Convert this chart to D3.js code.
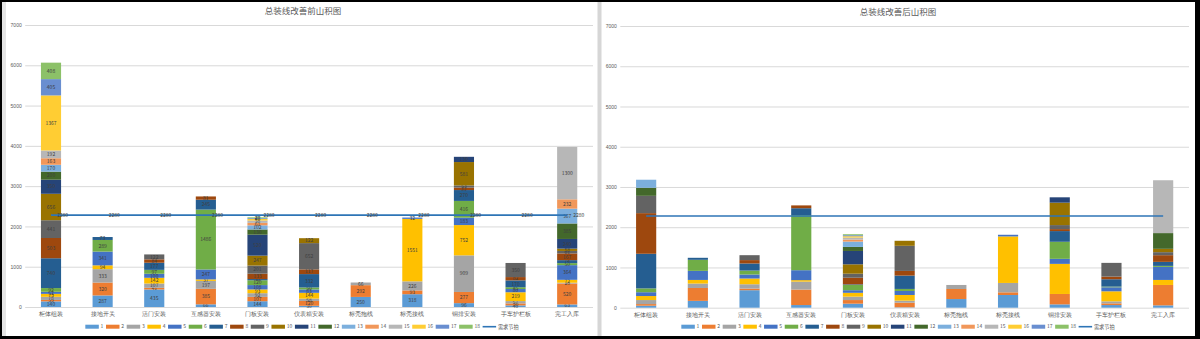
<!DOCTYPE html>
<html>
<head>
<meta charset="utf-8">
<script src="https://cdn.jsdelivr.net/npm/d3@7"></script>
<style>
  body { margin: 0; background: #000; }
  svg { display: block; font-family: "Noto Sans CJK SC", "Noto Sans", sans-serif; }
</style>
</head>
<body>
<script>
var categories = ["柜体组装", "接地开关", "活门安装", "互感器安装", "门板安装", "仪表箱安装",
    "标壳拖线", "标壳接线", "铜排安装", "手车护栏板", "完工入库"];
var seriesNames = ["1", "2", "3", "4", "5", "6", "7", "8", "9", "10", "11", "12", "13", "14", "15", "16", "17", "18"];
var lineName = "需求节拍";
var taktTime = [2280, 2280, 2280, 2280, 2280, 2280, 2280, 2280, 2280, 2280, 2280];
var yTicks = [0, 1000, 2000, 3000, 4000, 5000, 6000, 7000];

// rows = series 1..18, columns = categories
var beforeValues = [
    [140, 287, 435, 66, 144, 30, 250, 318, 96, 40, 63],
    [35, 320, 41, 385, 107, 120, 292, 93, 277, 50, 520],
    [78, 333, 107, 197, 92, 58, 66, 226, 909, 57, 20],
    [73, 94, 142, 37, 93, 144, 0, 1551, 752, 219, 72],
    [52, 341, 100, 247, 108, 83, 0, 32, 183, 80, 364],
    [92, 289, 97, 1486, 120, 50, 0, 0, 416, 45, 50],
    [740, 73, 177, 245, 30, 332, 0, 0, 270, 170, 74],
    [503, 0, 84, 81, 133, 117, 0, 0, 61, 82, 167],
    [441, 0, 122, 0, 201, 652, 0, 0, 53, 350, 61],
    [656, 0, 0, 0, 247, 122, 0, 0, 581, 0, 58],
    [350, 0, 0, 0, 520, 0, 0, 0, 130, 0, 240],
    [200, 0, 0, 0, 130, 0, 0, 0, 0, 0, 385],
    [170, 0, 0, 0, 102, 0, 0, 0, 0, 0, 367],
    [163, 0, 0, 0, 61, 0, 0, 0, 0, 0, 232],
    [192, 0, 0, 0, 58, 0, 0, 0, 0, 0, 1300],
    [1367, 0, 0, 0, 40, 0, 0, 0, 0, 0, 0],
    [405, 0, 0, 0, 20, 0, 0, 0, 0, 0, 0],
    [408, 0, 0, 0, 20, 0, 0, 0, 0, 0, 0]
];
var afterValues = [
    [50, 170, 435, 66, 100, 10, 215, 316, 83, 66, 58],
    [40, 320, 41, 385, 90, 115, 250, 66, 258, 42, 507],
    [100, 110, 107, 197, 85, 50, 100, 233, 0, 50, 0],
    [100, 90, 142, 37, 95, 141, 0, 1156, 748, 249, 125],
    [95, 225, 100, 247, 65, 100, 0, 41, 125, 100, 324],
    [95, 275, 97, 1370, 130, 50, 0, 0, 424, 17, 25],
    [860, 50, 177, 170, 15, 332, 0, 0, 266, 183, 100],
    [1010, 0, 84, 70, 165, 116, 0, 0, 49, 66, 166],
    [430, 0, 122, 0, 100, 624, 0, 0, 100, 341, 75],
    [0, 0, 0, 0, 233, 125, 0, 0, 557, 0, 83],
    [0, 0, 0, 0, 332, 0, 0, 0, 133, 0, 0],
    [200, 0, 0, 0, 100, 0, 0, 0, 0, 0, 391],
    [200, 0, 0, 0, 133, 0, 0, 0, 0, 0, 0],
    [0, 0, 0, 0, 50, 0, 0, 0, 0, 0, 0],
    [0, 0, 0, 0, 50, 0, 0, 0, 0, 0, 1313],
    [0, 0, 0, 0, 33, 0, 0, 0, 0, 0, 0],
    [0, 0, 0, 0, 25, 0, 0, 0, 0, 0, 0],
    [0, 0, 0, 0, 25, 0, 0, 0, 0, 0, 0]
];

var colors = ["#5B9BD5", "#ED7D31", "#A5A5A5", "#FFC000", "#4472C4", "#70AD47",
    "#255E91", "#9E480E", "#636363", "#997300", "#264478", "#43682B",
    "#7CAFDD", "#F1975A", "#B7B7B7", "#FFCD33", "#698ED0", "#8CC168"];
var lineColor = "#2E75B6";

var W = 1200, H = 339;
var svg = d3.select("body").append("svg").attr("width", W).attr("height", H);

// frame
svg.append("rect").attr("width", W).attr("height", H).attr("fill", "#000");
svg.append("rect").attr("x", 2).attr("y", 2).attr("width", 1193).attr("height", 334).attr("fill", "#fff");
svg.append("rect").attr("x", 2).attr("y", 2).attr("width", 4).attr("height", 334).attr("fill", "#e4e4e4");
svg.append("rect").attr("x", 597.5).attr("y", 2).attr("width", 4).attr("height", 334).attr("fill", "#d6d6d6");

function drawPanel(p) {
    var g = svg.append("g");
    var x = d3.scaleBand().domain(categories).range([p.left, p.right])
        .paddingInner(0.61).paddingOuter(0.305);
    var y = d3.scaleLinear().domain([0, 7000]).range([p.bottom, p.top]);

    // grid + y labels
    var ya = g.append("g").attr("transform", "translate(" + p.left + ",0)")
        .call(d3.axisLeft(y).tickValues(yTicks).tickFormat(d3.format("d"))
            .tickSize(-(p.right - p.left)).tickPadding(3.5));
    ya.select(".domain").remove();
    ya.selectAll("line").attr("stroke", "#d9d9d9").attr("stroke-width", 1);
    ya.selectAll("text").attr("fill", "#595959").style("font-size", "5px");

    // category labels
    var xa = g.append("g").attr("transform", "translate(0," + p.bottom + ")")
        .call(d3.axisBottom(x).tickSize(0).tickPadding(5));
    xa.select(".domain").remove();
    xa.selectAll("text").attr("fill", "#595959").style("font-size", "5.8px");

    // stacked bars
    var rows = categories.map((c, j) => {
        var r = { cat: c };
        seriesNames.forEach((s, i) => { r[s] = p.values[i][j]; });
        return r;
    });
    var stacked = d3.stack().keys(seriesNames)(rows);

    var layers = g.selectAll(".layer").data(stacked).enter()
        .append("g").attr("class", "layer")
        .attr("fill", (d, i) => colors[i]);

    layers.selectAll("rect").data(d => d.filter(e => e[1] - e[0] > 0)).enter()
        .append("rect")
        .attr("x", d => x(d.data.cat))
        .attr("y", d => y(d[1]))
        .attr("width", x.bandwidth())
        .attr("height", d => y(d[0]) - y(d[1]));

    if (p.labels) {
        layers.selectAll("text").data(d => d.filter(e => e[1] - e[0] > 0)).enter()
            .append("text")
            .attr("x", d => x(d.data.cat) + x.bandwidth() / 2)
            .attr("y", d => (y(d[0]) + y(d[1])) / 2)
            .attr("dy", "0.35em")
            .attr("text-anchor", "middle")
            .attr("fill", "#404040")
            .style("font-size", "5px")
            .text(d => d[1] - d[0]);
    }

    // takt line
    var line = d3.line()
        .x((d, i) => x(categories[i]) + x.bandwidth() / 2)
        .y(d => y(d));
    g.append("path").datum(taktTime)
        .attr("d", line)
        .attr("fill", "none")
        .attr("stroke", lineColor)
        .attr("stroke-width", 1.6);

    if (p.labels) {
        g.selectAll(".takt").data(taktTime).enter()
            .append("text").attr("class", "takt")
            .attr("x", (d, i) => x(categories[i]) + x.bandwidth() / 2 + 6)
            .attr("y", d => y(d))
            .attr("dy", "0.35em")
            .attr("fill", "#404040")
            .style("font-size", "5px")
            .text(d => d);
    }

    // title
    g.append("text")
        .attr("x", p.titleX).attr("y", p.titleY)
        .attr("text-anchor", "middle")
        .attr("fill", "#595959")
        .style("font-size", "8.5px")
        .text(p.title);

    // legend
    var lg = g.append("g");
    var cx = 0;
    seriesNames.forEach((s, i) => {
        lg.append("rect").attr("x", cx).attr("y", -2).attr("width", 13.5).attr("height", 4)
            .attr("fill", colors[i]);
        var t = lg.append("text").attr("x", cx + 15.3).attr("y", 0).attr("dy", "0.35em")
            .attr("fill", "#595959").style("font-size", "5px").text(s);
        cx += 15.3 + t.node().getComputedTextLength() + 2.6;
    });
    lg.append("line").attr("x1", cx).attr("x2", cx + 13.5).attr("y1", 0).attr("y2", 0)
        .attr("stroke", lineColor).attr("stroke-width", 1.6);
    var lt = lg.append("text").attr("x", cx + 15.3).attr("y", 0).attr("dy", "0.35em")
        .attr("fill", "#595959").style("font-size", "5.2px").text(lineName);
    cx += 15.3 + lt.node().getComputedTextLength();
    lg.attr("transform", "translate(" + (p.legendX - cx / 2) + "," + p.legendY + ")");
}

drawPanel({
    left: 25.2, right: 593, top: 25, bottom: 307,
    values: beforeValues, labels: true,
    title: "总装线改善前山积图", titleX: 303, titleY: 14,
    legendX: 302, legendY: 326.7
});
drawPanel({
    left: 620.3, right: 1189, top: 26, bottom: 307.7,
    values: afterValues, labels: false,
    title: "总装线改善后山积图", titleX: 898, titleY: 15,
    legendX: 898, legendY: 326.7
});
</script>
</body>
</html>
